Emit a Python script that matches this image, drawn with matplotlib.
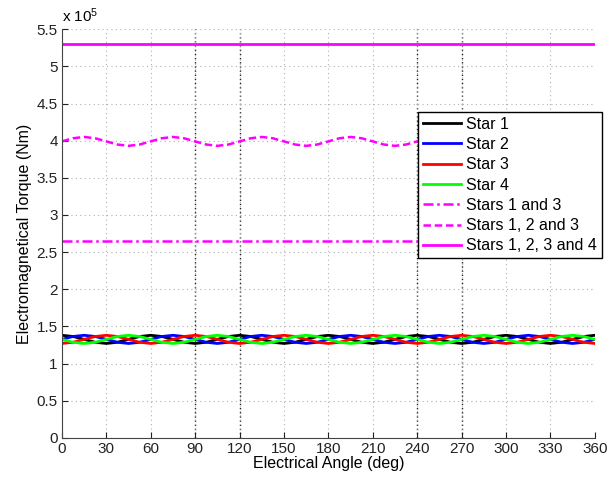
import numpy as np
import matplotlib
matplotlib.use("Agg")
import matplotlib.pyplot as plt

plt.rcParams["font.family"] = ["Liberation Sans", "DejaVu Sans"]
plt.rcParams["mathtext.fontset"] = "custom"
plt.rcParams["mathtext.rm"] = "Liberation Sans"
plt.rcParams["mathtext.it"] = "Liberation Sans"

# torque values in units of 1e5 Nm, sampled every 7.5 deg (0..360)
angle = np.arange(0, 360.1, 7.5)

star1 = [
    1.38, 1.364, 1.325, 1.286, 1.27, 1.286, 1.325, 1.364,
    1.38, 1.364, 1.325, 1.286, 1.27, 1.286, 1.325, 1.364,
    1.38, 1.364, 1.325, 1.286, 1.27, 1.286, 1.325, 1.364,
    1.38, 1.364, 1.325, 1.286, 1.27, 1.286, 1.325, 1.364,
    1.38, 1.364, 1.325, 1.286, 1.27, 1.286, 1.325, 1.364,
    1.38, 1.364, 1.325, 1.286, 1.27, 1.286, 1.325, 1.364,
    1.38,
]
star2 = [
    1.325, 1.364, 1.38, 1.364, 1.325, 1.286, 1.27, 1.286,
    1.325, 1.364, 1.38, 1.364, 1.325, 1.286, 1.27, 1.286,
    1.325, 1.364, 1.38, 1.364, 1.325, 1.286, 1.27, 1.286,
    1.325, 1.364, 1.38, 1.364, 1.325, 1.286, 1.27, 1.286,
    1.325, 1.364, 1.38, 1.364, 1.325, 1.286, 1.27, 1.286,
    1.325, 1.364, 1.38, 1.364, 1.325, 1.286, 1.27, 1.286,
    1.325,
]
star3 = [
    1.27, 1.286, 1.325, 1.364, 1.38, 1.364, 1.325, 1.286,
    1.27, 1.286, 1.325, 1.364, 1.38, 1.364, 1.325, 1.286,
    1.27, 1.286, 1.325, 1.364, 1.38, 1.364, 1.325, 1.286,
    1.27, 1.286, 1.325, 1.364, 1.38, 1.364, 1.325, 1.286,
    1.27, 1.286, 1.325, 1.364, 1.38, 1.364, 1.325, 1.286,
    1.27, 1.286, 1.325, 1.364, 1.38, 1.364, 1.325, 1.286,
    1.27,
]
star4 = [
    1.325, 1.286, 1.27, 1.286, 1.325, 1.364, 1.38, 1.364,
    1.325, 1.286, 1.27, 1.286, 1.325, 1.364, 1.38, 1.364,
    1.325, 1.286, 1.27, 1.286, 1.325, 1.364, 1.38, 1.364,
    1.325, 1.286, 1.27, 1.286, 1.325, 1.364, 1.38, 1.364,
    1.325, 1.286, 1.27, 1.286, 1.325, 1.364, 1.38, 1.364,
    1.325, 1.286, 1.27, 1.286, 1.325, 1.364, 1.38, 1.364,
    1.325,
]
stars_123 = [
    3.99, 4.032, 4.05, 4.032, 3.99, 3.948, 3.93, 3.948,
    3.99, 4.032, 4.05, 4.032, 3.99, 3.948, 3.93, 3.948,
    3.99, 4.032, 4.05, 4.032, 3.99, 3.948, 3.93, 3.948,
    3.99, 4.032, 4.05, 4.032, 3.99, 3.948, 3.93, 3.948,
    3.99, 4.032, 4.05, 4.032, 3.99, 3.948, 3.93, 3.948,
    3.99, 4.032, 4.05, 4.032, 3.99, 3.948, 3.93, 3.948,
    3.99,
]
ends = [0, 360]
stars_13 = [2.65, 2.65]
stars_1234 = [5.3, 5.3]

ref_angles = [90, 120, 240, 270]
xticks = list(range(0, 361, 30))
yticks = [0, 0.5, 1, 1.5, 2, 2.5, 3, 3.5, 4, 4.5, 5, 5.5]
ytick_labels = ["0", "0.5", "1", "1.5", "2", "2.5", "3", "3.5", "4", "4.5", "5", "5.5"]

fig = plt.figure(figsize=(6.07, 4.87), dpi=100)
ax = fig.add_axes([0.102, 0.101, 0.878, 0.839])

ax.grid(True, linestyle=(0, (1, 3)), color="#b0b0b0", linewidth=0.8)
for a in ref_angles:
    ax.axvline(a, color="#222222", linestyle=(0, (1, 2)), linewidth=1.0, zorder=1)

ax.plot(angle, star1, color="black", lw=2.0, label="Star 1")
ax.plot(angle, star2, color="blue", lw=2.0, label="Star 2")
ax.plot(angle, star3, color="red", lw=2.0, label="Star 3")
ax.plot(angle, star4, color="#00ff00", lw=2.0, label="Star 4")
ax.plot(ends, stars_13, color="magenta", lw=1.8, ls=(0, (4, 1.5, 1, 1.5)),
        label="Stars 1 and 3")
ax.plot(angle, stars_123, color="magenta", lw=1.8, ls=(0, (3, 1.5)),
        label="Stars 1, 2 and 3")
ax.plot(ends, stars_1234, color="magenta", lw=2.0, label="Stars 1, 2, 3 and 4")

ax.set_xlim(0, 360)
ax.set_ylim(0, 5.5)
ax.set_xticks(xticks)
ax.set_yticks(yticks)
ax.set_yticklabels(ytick_labels)
ax.tick_params(direction="in", length=4, labelsize=11, pad=3, colors="#222222")
for s in ("top", "right"):
    ax.spines[s].set_visible(False)
for s in ("left", "bottom"):
    ax.spines[s].set_color("#444444")

ax.set_xlabel("Electrical Angle (deg)", fontsize=11.5, labelpad=0)
ax.set_ylabel("Electromagnetical Torque (Nm)", fontsize=11.5, labelpad=3)
ax.text(0.0, 1.01, r"x 10$^5$", transform=ax.transAxes, fontsize=11,
        ha="left", va="bottom")

leg = ax.legend(loc="upper left", bbox_to_anchor=(0.689, 0.770),
                bbox_transform=fig.transFigure, fontsize=11.5, frameon=True,
                fancybox=False, framealpha=1, edgecolor="black",
                handlelength=2.4, labelspacing=0.33, borderpad=0.3,
                handletextpad=0.3, borderaxespad=0)
leg.get_frame().set_linewidth(1.0)

fig.savefig("out.png", dpi=100)
